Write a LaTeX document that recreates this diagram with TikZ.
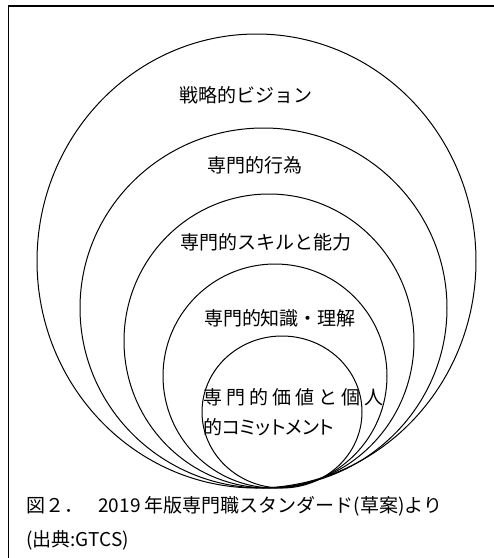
\documentclass[tikz,border=0pt]{standalone}
\usepackage{fontspec}
\setmainfont{Noto Sans CJK JP}
\newfontfamily\jpp[RawFeature=+palt]{Noto Sans CJK JP}
\begin{document}
\begin{tikzpicture}[x=1pt,y=-1pt,
  ring/.style={draw=black, line width=1pt},
  lbl/.style={font=\fontsize{19}{22}\selectfont, inner sep=0pt},
  captxt/.style={font=\fontsize{19}{22}\selectfont, inner sep=0pt, anchor=west}]
\useasboundingbox (0,0) rectangle (494,558);
\fill[white] (0,0) rectangle (494,558);
\coordinate (fbl) at (8.5,558);
\coordinate (ftl) at (8.5,6);
\coordinate (ftr) at (494,6);
\draw[line width=1.8pt] (fbl) -- (ftl) -- (ftr);
% nested rings, all touching at the bottom
\draw[ring] (256.5,261) ellipse [x radius=219.5, y radius=227];
\draw[ring] (263.5,308) ellipse [x radius=183.5, y radius=180];
\draw[ring] (269,341) ellipse [x radius=145, y radius=147];
\draw[ring] (275,376) ellipse [x radius=112, y radius=112];
\draw[ring] (282,412) ellipse [x radius=80, y radius=76];
% labels
\node[lbl] (t1) at (246,95) {戦略的ビジョン};
\node[lbl] (t2) at (255,165) {専門的行為};
\node[lbl] (t3) at (266,242) {専門的スキルと能力};
\node[lbl] (t4) at (280,318) {専門的知識・理解};
\node[lbl, anchor=west] (t5a) at (203,397) {専\hspace{4pt}門\hspace{4pt}的\hspace{4pt}価\hspace{4pt}値\hspace{4pt}と\hspace{4pt}個\hspace{4pt}人};
\node[lbl, anchor=west] (t5b) at (203,427) {的{\jpp コミットメント}};
% caption
\node[captxt] (c1) at (26,506) {図２．\hspace{0.8em}2019 年版専門職スタンダード(草案)より};
\node[captxt] (c2) at (26,540) {(出典:GTCS)};
\end{tikzpicture}
\end{document}
